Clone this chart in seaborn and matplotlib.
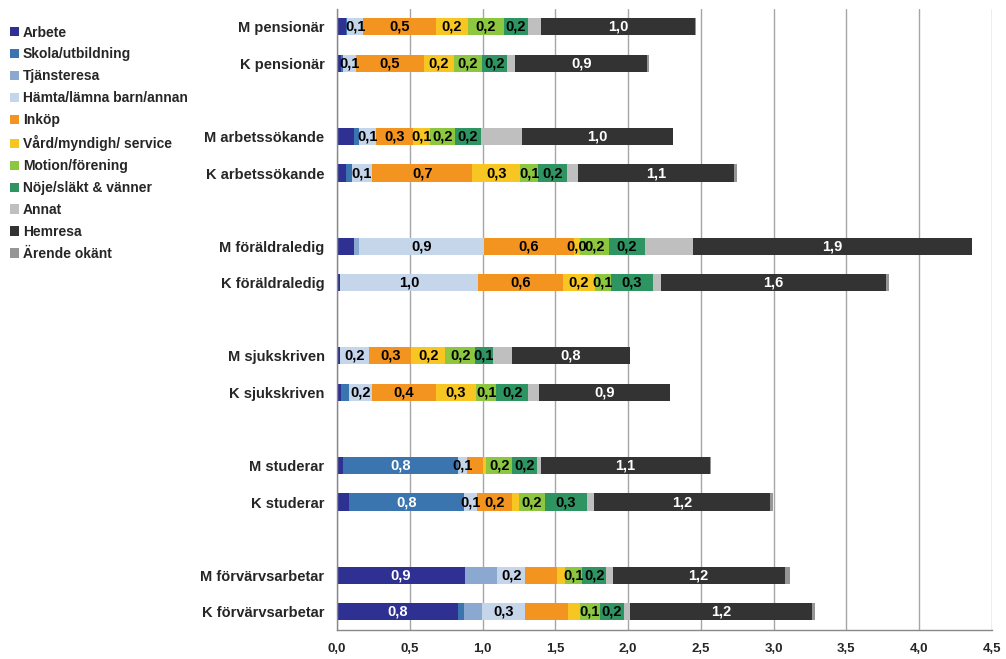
import numpy as np
import pandas as pd
import matplotlib
matplotlib.use("Agg")
import matplotlib.pyplot as plt
import seaborn as sns
from matplotlib.patches import Patch
from matplotlib.ticker import FixedLocator, FuncFormatter

# rader (uppifrån och ned), tomma rader mellan grupperna
rader = ["M pensionär", "K pensionär", "M arbetssökande", "K arbetssökande",
         "M föräldraledig", "K föräldraledig", "M sjukskriven", "K sjukskriven",
         "M studerar", "K studerar", "M förvärvsarbetar", "K förvärvsarbetar"]
ordning = ["M pensionär", "K pensionär", " ", "M arbetssökande", "K arbetssökande", "  ",
           "M föräldraledig", "K föräldraledig", "   ", "M sjukskriven", "K sjukskriven", "    ",
           "M studerar", "K studerar", "     ", "M förvärvsarbetar", "K förvärvsarbetar"]

arenden = ["Arbete", "Skola/utbildning", "Tjänsteresa", "Hämta/lämna barn/annan", "Inköp",
           "Vård/myndigh/ service", "Motion/förening", "Nöje/släkt & vänner", "Annat",
           "Hemresa", "Ärende okänt"]
farger = ["#2E3192", "#3A75B0", "#8BA9D0", "#C5D5EA", "#F39420", "#F8C623",
          "#8DC63F", "#2E9462", "#BFBFBF", "#333333", "#969696"]
textfarg = ["white", "white", "black", "black", "black", "black",
            "black", "black", "black", "white", "black"]

arbete = [0.06, 0.03, 0.12, 0.06, 0.12, 0.02, 0.02, 0.03, 0.04, 0.085, 0.88, 0.83]
skola = [0.01, 0.01, 0.03, 0.04, 0.0, 0.0, 0.0, 0.05, 0.79, 0.79, 0.0, 0.045]
tjanst = [0.0, 0.0, 0.0, 0.0, 0.03, 0.0, 0.0, 0.0, 0.0, 0.0, 0.22, 0.12]
hamta = [0.11, 0.09, 0.12, 0.14, 0.86, 0.95, 0.20, 0.16, 0.06, 0.09, 0.195, 0.295]
inkop = [0.50, 0.465, 0.25, 0.69, 0.62, 0.58, 0.29, 0.44, 0.115, 0.24, 0.22, 0.295]
vard = [0.22, 0.21, 0.12, 0.33, 0.04, 0.22, 0.235, 0.275, 0.02, 0.045, 0.055, 0.085]
motion = [0.245, 0.19, 0.17, 0.12, 0.20, 0.11, 0.205, 0.14, 0.18, 0.18, 0.115, 0.135]
noje = [0.17, 0.175, 0.18, 0.20, 0.245, 0.29, 0.12, 0.22, 0.17, 0.285, 0.165, 0.17]
annat = [0.085, 0.055, 0.28, 0.075, 0.33, 0.055, 0.13, 0.07, 0.03, 0.05, 0.045, 0.04]
hemresa = [1.06, 0.905, 1.04, 1.07, 1.915, 1.55, 0.815, 0.905, 1.155, 1.21, 1.18, 1.25]
okant = [0.01, 0.015, 0.0, 0.025, 0.0, 0.015, 0.0, 0.0, 0.01, 0.02, 0.035, 0.02]

# etiketter som syns i diagrammet ("" = ingen etikett)
lab_arbete = ["", "", "", "", "", "", "", "", "", "", "0,9", "0,8"]
lab_skola = ["", "", "", "", "", "", "", "", "0,8", "0,8", "", ""]
lab_tjanst = [""] * 12
lab_hamta = ["0,1", "0,1", "0,1", "0,1", "0,9", "1,0", "0,2", "0,2", "0,1", "0,1", "0,2", "0,3"]
lab_inkop = ["0,5", "0,5", "0,3", "0,7", "0,6", "0,6", "0,3", "0,4", "", "0,2", "", ""]
lab_vard = ["0,2", "0,2", "0,1", "0,3", "0,0", "0,2", "0,2", "0,3", "", "", "", ""]
lab_motion = ["0,2", "0,2", "0,2", "0,1", "0,2", "0,1", "0,2", "0,1", "0,2", "0,2", "0,1", "0,1"]
lab_noje = ["0,2", "0,2", "0,2", "0,2", "0,2", "0,3", "0,1", "0,2", "0,2", "0,3", "0,2", "0,2"]
lab_annat = [""] * 12
lab_hemresa = ["1,0", "0,9", "1,0", "1,1", "1,9", "1,6", "0,8", "0,9", "1,1", "1,2", "1,2", "1,2"]
lab_okant = [""] * 12

varden = np.array([arbete, skola, tjanst, hamta, inkop, vard, motion, noje, annat, hemresa, okant])
etiketter = [lab_arbete, lab_skola, lab_tjanst, lab_hamta, lab_inkop, lab_vard, lab_motion,
             lab_noje, lab_annat, lab_hemresa, lab_okant]
kum = np.cumsum(varden, axis=0)

sns.set_style("white")
plt.rcParams['font.family'] = ['Liberation Sans', 'DejaVu Sans']
plt.rcParams['font.weight'] = 'bold'

fig = plt.figure(figsize=(10.06, 6.59), dpi=100)
ax = fig.add_axes([0.335, 0.044, 0.651, 0.943])
ax.set_axisbelow(True)

# staplade staplar: rita kumulativa summor bakifrån
for i in reversed(range(len(arenden))):
    df = pd.DataFrame({'rad': rader, 'slut': kum[i]})
    sns.barplot(data=df, x='slut', y='rad', order=ordning, orient='h', color=farger[i],
                saturation=1, width=0.47, errorbar=None, linewidth=0, ax=ax)

pos = {r: ordning.index(r) for r in rader}
for i in range(len(arenden)):
    for j, r in enumerate(rader):
        if etiketter[i][j]:
            mitt = kum[i][j] - varden[i][j] / 2
            ax.text(mitt, pos[r], etiketter[i][j], ha='center', va='center',
                    color=textfarg[i], fontsize=10.5, fontweight='bold')

ax.set_xlim(0, 4.5)
ax.set_ylim(len(ordning) - 0.5, -0.5)
ax.set_xlabel("")
ax.set_ylabel("")
ax.set_xticks(np.arange(0, 4.51, 0.5))
ax.xaxis.set_major_formatter(FuncFormatter(lambda v, p: f"{v:.1f}".replace(".", ",")))
ax.grid(axis='x', color='#A6A6A6', linewidth=1)
ax.yaxis.set_minor_locator(FixedLocator(np.arange(-0.5, len(ordning), 1.0)))
ax.tick_params(axis='y', which='major', length=0, pad=9, labelsize=10.5)
ax.tick_params(axis='y', which='minor', length=5, color='#888888', direction='out')
ax.tick_params(axis='x', length=5, color='#888888', direction='out', labelsize=9.5, pad=4)
for s in ['top', 'right']:
    ax.spines[s].set_visible(False)
for s in ['left', 'bottom']:
    ax.spines[s].set_color('#888888')
    ax.spines[s].set_linewidth(1)
for t in ax.get_yticklabels() + ax.get_xticklabels():
    t.set_fontweight('bold')

handtag = [Patch(facecolor=c, edgecolor='none') for c in farger]
fig.legend(handtag, arenden, loc='upper left', bbox_to_anchor=(0.0, 0.976), frameon=False,
           handlelength=0.65, handleheight=0.65, handletextpad=0.3, borderaxespad=0.3,
           labelspacing=0.57, prop={'weight': 'bold', 'size': 10})

fig.savefig("out.png", dpi=100)
